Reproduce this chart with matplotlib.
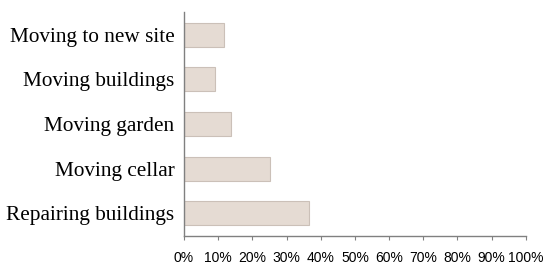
import matplotlib
matplotlib.use('Agg')
from matplotlib import pyplot as plt
import numpy as np

categories = ['Repairing buildings', 'Moving cellar', 'Moving garden',
              'Moving buildings', 'Moving to new site']
shares = [36.6, 25.3, 13.7, 9.0, 11.6]
x_ticks = list(range(0, 101, 10))
x_labels = [str(t) + '%' for t in x_ticks]

fig = plt.figure(figsize=(5.5, 2.7), dpi=100)
ax = fig.add_axes([0.3345, 0.127, 0.6215, 0.827])

y = np.arange(len(categories))
ax.barh(y, shares, height=0.54, color='#e5dbd3', edgecolor='#cbc0b8', linewidth=0.8)

ax.set_xlim(0, 100)
ax.set_ylim(-0.5, len(categories) - 0.5)
ax.set_yticks(y)
ax.set_yticklabels(categories, family='Liberation Serif', fontsize=15.3)
ax.set_xticks(x_ticks)
ax.set_xticklabels(x_labels, family='Liberation Sans', fontsize=10)

for side in ['top', 'right']:
    ax.spines[side].set_visible(False)
for side in ['left', 'bottom']:
    ax.spines[side].set_color('#808080')
    ax.spines[side].set_linewidth(1.0)

ax.tick_params(axis='y', length=0, pad=7)
ax.tick_params(axis='x', length=3, color='#808080', pad=8)

fig.savefig('out.png')
